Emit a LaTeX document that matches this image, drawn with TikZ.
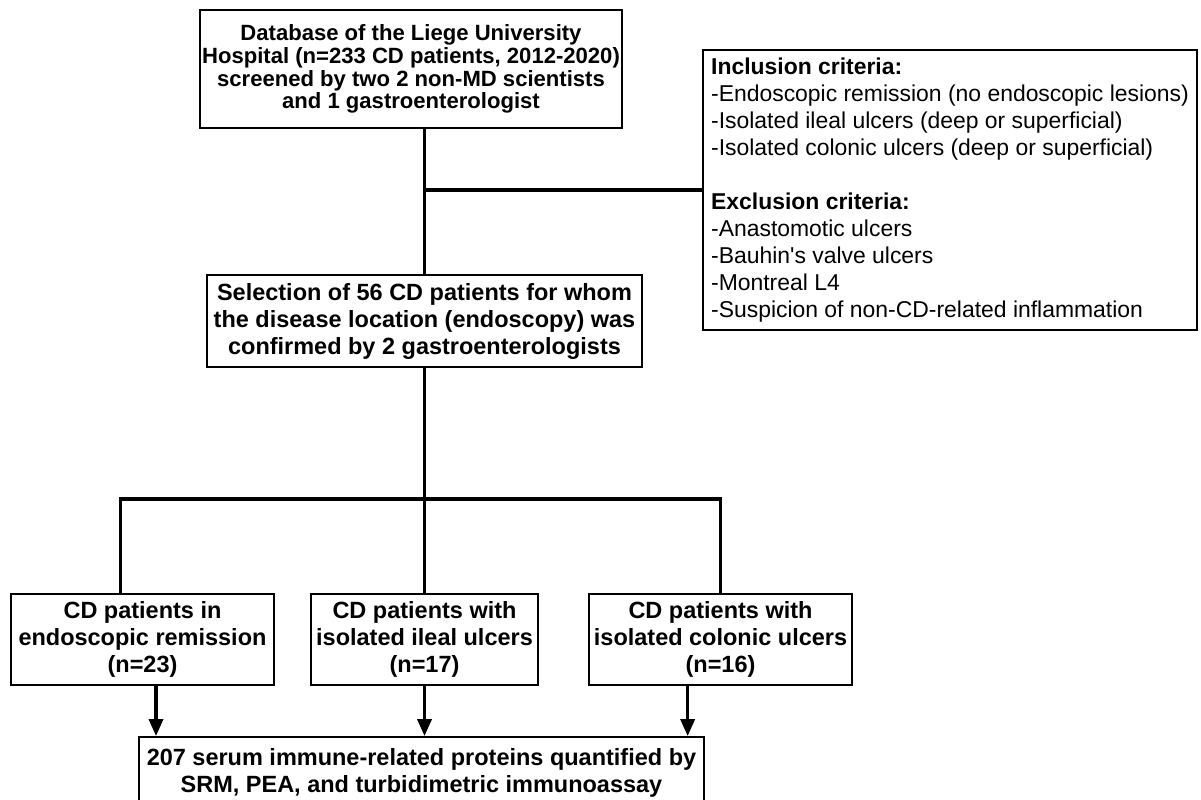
\documentclass[tikz,border=0pt]{standalone}
\usepackage{fontspec}
\setmainfont{Liberation Sans}
\usetikzlibrary{arrows.meta, positioning, calc}
\newcommand{\px}{0.025cm}

\begin{document}
\begin{tikzpicture}[
    x=\px, y=-\px,
    box/.style={rectangle, draw=black, line width=1.4pt, fill=white, align=center, inner sep=0pt,
                font=\bfseries\fontsize{16.7}{19.2}\selectfont},
    critbox/.style={rectangle, draw=black, line width=1.4pt, fill=white, align=left, inner sep=0pt,
                font=\fontsize{16.3}{19.2}\selectfont},
    link/.style={line width=2.3pt},
    arrow/.style={link, -{Triangle[width=10pt, length=12pt]}},
]
\clip (0,0) rectangle (1201,800);

% ── Row 1: Screening and criteria ──
\node[box, minimum width=422*\px, minimum height=118*\px,
      font=\bfseries\fontsize{15.7}{16.2}\selectfont] (db) at (411,69)
     {Database of the Liege University\\Hospital (n=233 CD patients, 2012-2020)\\screened by two 2 non-MD scientists\\and 1 gastroenterologist};
\node[critbox, minimum width=494*\px, minimum height=280*\px] (crit) at (950,190)
     {\textbf{Inclusion criteria:}\\-Endoscopic remission (no endoscopic lesions)\\-Isolated ileal ulcers (deep or superficial)\\-Isolated colonic ulcers (deep or superficial)\\[19.2pt]
      \textbf{Exclusion criteria:}\\-Anastomotic ulcers\\-Bauhin\textquotesingle s valve ulcers\\-Montreal L4\\-Suspicion of non-CD-related inflammation};

% ── Row 2: Selection ──
\node[box, minimum width=435*\px, minimum height=92*\px] (sel) at (424.5,321)
     {Selection of 56 CD patients for whom\\the disease location (endoscopy) was\\confirmed by 2 gastroenterologists};

% ── Row 3: Groups ──
\node[box, minimum width=263*\px, minimum height=91*\px] (rem) at (142.5,639.5) {CD patients in\\endoscopic remission\\(n=23)};
\node[box, minimum width=227*\px, minimum height=91*\px] (ile) at (424.5,639.5) {CD patients with\\isolated ileal ulcers\\(n=17)};
\node[box, minimum width=263*\px, minimum height=91*\px] (col) at (720.5,639.5) {CD patients with\\isolated colonic ulcers\\(n=16)};

% ── Row 4: Quantification ──
\node[box, minimum width=565*\px, minimum height=72*\px] (prot) at (421.5,773)
     {207 serum immune-related proteins quantified by\\SRM, PEA, and turbidimetric immunoassay};

% ── Connectors ──
\draw[link] (db.south -| sel.north) -- (sel.north);
\draw[link] (crit.west) -- (crit.west -| sel.north);
\coordinate (split) at ($(sel.south)+(0,131)$);
\coordinate (remin) at ($(rem.north west)!0.418!(rem.north east)$);
\draw[link] (sel.south) -- (split) -- (ile.north);
\draw[link] (remin) |- (split) -| (col.north);

% ── Arrows ──
\coordinate (remout) at ($(rem.south west)!0.551!(rem.south east)$);
\coordinate (colout) at ($(col.south west)!0.376!(col.south east)$);
\draw[arrow] (remout) -- (remout |- prot.north);
\draw[arrow] (ile.south) -- (ile.south |- prot.north);
\draw[arrow] (colout) -- (colout |- prot.north);

\end{tikzpicture}
\end{document}
